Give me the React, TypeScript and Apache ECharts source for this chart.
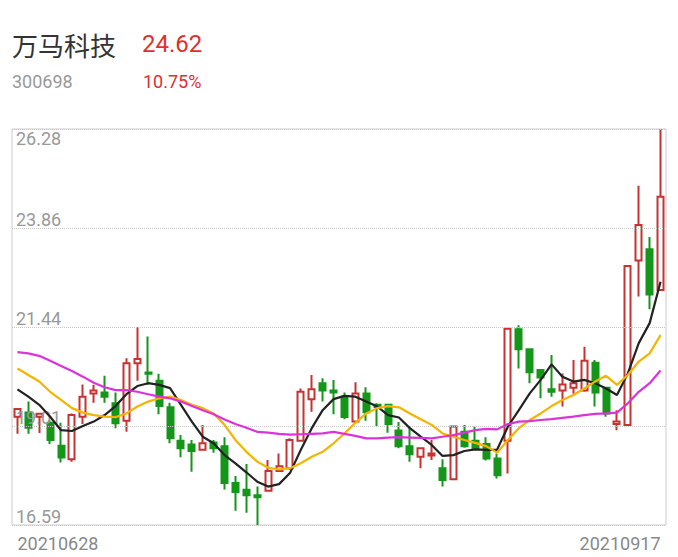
import { useRef, useEffect } from "react";
import * as echarts from "echarts";

// 交易日
const dates = [
  "20210628", "20210629", "20210630", "20210701", "20210702",
  "20210705", "20210706", "20210707", "20210708", "20210709",
  "20210712", "20210713", "20210714", "20210715", "20210716",
  "20210719", "20210720", "20210721", "20210722", "20210723",
  "20210726", "20210727", "20210728", "20210729", "20210730",
  "20210802", "20210803", "20210804", "20210805", "20210806",
  "20210809", "20210810", "20210811", "20210812", "20210813",
  "20210816", "20210817", "20210818", "20210819", "20210820",
  "20210823", "20210824", "20210825", "20210826", "20210827",
  "20210830", "20210831", "20210901", "20210902", "20210903",
  "20210906", "20210907", "20210908", "20210909", "20210910",
  "20210913", "20210914", "20210915", "20210916", "20210917",
];

const opens = [
  19.24, 19.34, 19.24, 19.09, 18.53, 18.2, 19.24, 19.81, 19.83, 19.57,
  19.14, 20.55, 20.32, 20.12, 19.47, 18.65, 18.56, 18.43, 18.61, 18.52,
  17.62, 17.45, 17.32, 17.43, 17.91, 17.98, 18.65, 19.67, 20.06, 19.88,
  19.73, 19.12, 19.81, 19.53, 19.53, 18.9, 18.52, 18.26, 18.29, 17.98,
  17.71, 18.87, 18.65, 18.57, 18.22, 18.65, 21.38, 20.89, 20.38, 19.91,
  19.88, 19.95, 19.88, 20.56, 19.95, 19.06, 19.04, 23.06, 23.34, 22.34,
];
const closes = [
  19.43, 18.97, 19.31, 18.67, 18.24, 19.28, 19.73, 19.88, 19.73, 19.08,
  20.55, 20.65, 20.29, 19.5, 18.71, 18.47, 18.4, 18.59, 18.47, 17.62,
  17.4, 17.32, 17.27, 17.91, 18.03, 18.67, 19.85, 19.91, 19.88, 19.83,
  19.23, 19.81, 19.35, 19.48, 19.06, 18.52, 18.32, 18.47, 18.34, 17.69,
  19.0, 18.52, 18.47, 18.22, 17.81, 21.39, 20.89, 20.33, 20.2, 19.85,
  20.03, 20.06, 20.61, 19.83, 19.32, 19.12, 22.93, 23.93, 22.23, 24.62,
];
const lows = [
  18.82, 18.82, 18.84, 18.57, 18.12, 18.14, 19.06, 19.58, 19.58, 18.96,
  18.87, 20.12, 20.02, 19.3, 18.59, 18.25, 17.89, 18.43, 18.36, 17.46,
  16.94, 16.89, 16.59, 17.43, 17.91, 17.94, 18.63, 19.36, 19.61, 19.3,
  19.18, 19.08, 19.14, 19.01, 18.85, 18.47, 18.14, 17.98, 18.18, 17.53,
  17.71, 18.48, 18.43, 18.17, 17.73, 17.85, 20.42, 20.06, 19.69, 19.73,
  19.49, 19.8, 19.85, 19.49, 19.24, 18.91, 19.04, 22.18, 21.87, 22.34,
];
const highs = [
  19.45, 19.61, 19.33, 19.16, 19.09, 19.32, 20.03, 20.02, 20.24, 19.83,
  20.67, 21.43, 21.2, 20.29, 19.58, 18.79, 18.67, 19.04, 18.67, 18.74,
  17.79, 18.08, 17.53, 18.18, 18.34, 18.71, 19.93, 20.26, 20.18, 20.14,
  19.83, 20.08, 19.96, 19.57, 19.55, 19.11, 19.0, 18.47, 18.67, 18.2,
  19.0, 19.04, 19.0, 18.74, 18.34, 21.39, 21.48, 20.89, 20.38, 20.75,
  20.3, 20.63, 20.95, 20.63, 19.97, 19.4, 22.93, 24.89, 23.64, 26.28,
];

// 均线
const ma5 = [
  19.91, 19.73, 19.53, 19.24, 18.91, 18.89, 19.01, 19.12, 19.28, 19.5,
  19.79, 19.99, 20.06, 20.02, 19.94, 19.53, 19.12, 18.75, 18.59, 18.3,
  18.1, 17.88, 17.65, 17.53, 17.59, 17.86, 18.43, 18.96, 19.4, 19.67,
  19.75, 19.73, 19.61, 19.49, 19.28, 19.22, 18.96, 18.75, 18.55, 18.28,
  18.3, 18.4, 18.44, 18.43, 18.43, 19.0, 19.4, 19.81, 20.14, 20.52,
  20.22, 20.1, 20.14, 20.06, 19.93, 19.77, 20.3, 21.04, 21.53, 22.54,
];
const ma10 = [
  20.42, 20.26, 20.1, 19.85, 19.65, 19.45, 19.34, 19.28, 19.24, 19.23,
  19.32, 19.49, 19.61, 19.69, 19.73, 19.65, 19.53, 19.45, 19.32, 19.04,
  18.67, 18.38, 18.14, 17.99, 17.95, 17.98, 18.1, 18.26, 18.38, 18.59,
  18.83, 19.09, 19.32, 19.45, 19.5, 19.47, 19.32, 19.18, 19.04, 18.83,
  18.75, 18.67, 18.6, 18.52, 18.36, 18.67, 18.96, 19.16, 19.32, 19.5,
  19.65, 19.77, 19.93, 20.1, 20.24, 20.02, 20.26, 20.59, 20.79, 21.24,
];
const ma20 = [
  20.82, 20.79, 20.73, 20.61, 20.48, 20.36, 20.22, 20.07, 19.96, 19.89,
  19.89, 19.85, 19.79, 19.73, 19.69, 19.61, 19.5, 19.4, 19.3, 19.17,
  19.06, 18.97, 18.87, 18.85, 18.82, 18.8, 18.81, 18.82, 18.83, 18.87,
  18.82, 18.77, 18.71, 18.71, 18.73, 18.74, 18.73, 18.72, 18.71, 18.75,
  18.79, 18.85, 18.91, 18.94, 18.93, 19.06, 19.12, 19.13, 19.16, 19.18,
  19.21, 19.24, 19.28, 19.31, 19.32, 19.34, 19.57, 19.85, 20.06, 20.37,
];

// 纵轴刻度
const yTicks = [16.59, 19.01, 21.44, 23.86, 26.28];

const stockName = "万马科技";
const stockCode = "300698";
const lastPrice = "24.62";
const changePct = "10.75%";

const RED = "#c83232";
const GREEN = "#14961a";

const App = () => {
  const chartRef = useRef<HTMLDivElement>(null);

  useEffect(() => {
    const myChart = echarts.init(chartRef.current, null, { renderer: "svg" });

    const candles = dates.map((_, i) => [opens[i], closes[i], lows[i], highs[i]]);
    const yMin = yTicks[0];
    const yMax = yTicks[yTicks.length - 1];
    // 四舍五入避免浮点误差产生多余刻度
    const yStep = Math.round(((yMax - yMin) / (yTicks.length - 1)) * 1e4) / 1e4;

    const option = {
      animation: false,
      backgroundColor: "#fff",
      textStyle: { fontFamily: "Roboto, 'Noto Sans CJK SC', sans-serif" },
      graphic: [
        {
          type: "text",
          x: 12,
          y: 44,
          style: {
            text: stockName,
            font: "26px 'Noto Sans CJK SC'",
            fill: "#333",
            verticalAlign: "middle",
          },
        },
        {
          type: "text",
          x: 142,
          y: 44,
          style: {
            text: lastPrice,
            font: "24px Roboto",
            fill: "#e02f2f",
            verticalAlign: "middle",
          },
        },
        {
          type: "text",
          x: 12,
          y: 81,
          style: {
            text: stockCode,
            font: "18px Roboto",
            fill: "#999",
            verticalAlign: "middle",
          },
        },
        {
          type: "text",
          x: 143,
          y: 81,
          style: {
            text: changePct,
            font: "18px Roboto",
            fill: "#e02f2f",
            verticalAlign: "middle",
          },
        },
      ],
      grid: {
        left: 12,
        right: 12,
        top: 129,
        bottom: 32,
        show: true,
        borderColor: "#ccc",
        borderWidth: 1,
        containLabel: false,
        outerBoundsMode: "none",
      },
      xAxis: {
        type: "category",
        data: dates,
        boundaryGap: true,
        axisLine: { show: false },
        axisTick: { show: false },
        splitLine: { show: false },
        axisLabel: {
          interval: (i: number) => i === 0 || i === dates.length - 1,
          alignMinLabel: "left",
          alignMaxLabel: "right",
          color: "#888",
          fontSize: 18,
          margin: 9,
        },
      },
      yAxis: {
        type: "value",
        z: 3,
        min: yMin,
        max: yMax,
        interval: yStep,
        axisLine: { show: false },
        axisTick: { show: false },
        splitLine: { show: true, lineStyle: { type: "dotted", color: "#c8c8c8" } },
        axisLabel: {
          inside: true,
          margin: 4,
          color: "#999",
          fontSize: 18,
          verticalAlign: "bottom",
          verticalAlignMaxLabel: "top",
          formatter: (v: number) => {
            let best = yTicks[0];
            yTicks.forEach((t) => {
              if (Math.abs(t - v) < Math.abs(best - v)) best = t;
            });
            return best.toFixed(2);
          },
        },
      },
      series: [
        {
          type: "candlestick",
          data: candles,
          barWidth: 6.5,
          itemStyle: {
            color: "#fff",
            color0: GREEN,
            borderColor: RED,
            borderColor0: GREEN,
            borderWidth: 2,
          },
        },
        {
          type: "line",
          z: 4,
          data: ma5,
          symbol: "none",
          lineStyle: { color: "#222", width: 2.2 },
        },
        {
          type: "line",
          z: 4,
          data: ma10,
          symbol: "none",
          lineStyle: { color: "#f4b400", width: 2.2 },
        },
        {
          type: "line",
          z: 4,
          data: ma20,
          symbol: "none",
          lineStyle: { color: "#dc32dc", width: 2.2 },
        },
      ],
    };

    myChart.setOption(option);

    return () => {
      myChart.dispose();
    };
  }, []);

  return (
    <div
      ref={chartRef}
      style={{ position: "absolute", left: 0, top: 0, width: "678px", height: "557px" }}
    ></div>
  );
};

export default App;
